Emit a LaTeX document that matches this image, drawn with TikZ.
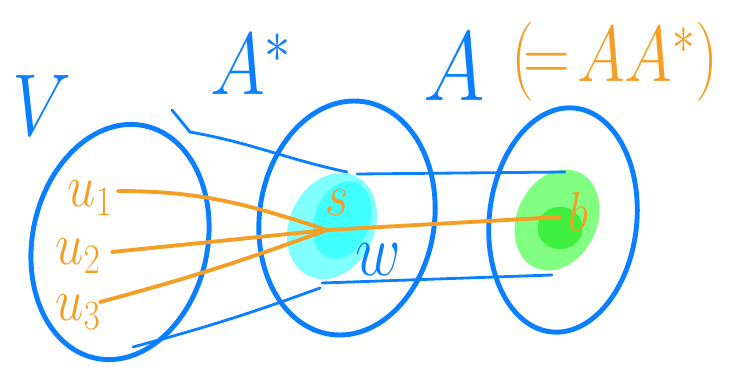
\documentclass[tikz,border=0pt]{standalone}
\usepackage{fix-cm}
\usepackage{amsmath, amssymb}
\usepackage{xcolor}
\usepackage{tikz}
\usetikzlibrary{
  arrows.meta,
  positioning,
  shapes.geometric,
  calc,
}
\definecolor{penblue}{HTML}{0A7FFF}
\definecolor{penorange}{HTML}{F59E26}
\definecolor{cyanlight}{HTML}{80FFFF}
\definecolor{cyandeep}{HTML}{40FFFF}
\definecolor{greenlight}{HTML}{80FF80}
\definecolor{greendeep}{HTML}{40F040}

\begin{document}
\begin{tikzpicture}[
    set/.style={ellipse, draw=penblue, line width=2.8pt, inner sep=0pt},
    blob/.style={ellipse, inner sep=0pt},
    map/.style={draw=penblue, line width=1.6pt, line cap=round},
    elt/.style={draw=penorange, line width=2.2pt, line cap=round},
    bluelab/.style={text=penblue, font=\fontsize{50}{50}\selectfont,
                    inner sep=0pt, xscale=0.85, transform shape},
    orangelab/.style={text=penorange, font=\fontsize{45}{45}\selectfont,
                      inner sep=0pt, xscale=0.82, transform shape},
    eltlab/.style={text=penorange, font=\fontsize{34}{34}\selectfont,
                   inner sep=0pt, xscale=0.85, transform shape},
  ]
  \useasboundingbox (0,0) rectangle (14.62,7.48);
  % coloured patches for s and b
  \node[blob, fill=cyanlight, minimum width=1.7cm, minimum height=2.2cm, rotate=-25] (Sout) at (6.64,2.96) {};
  \node[blob, fill=cyandeep, minimum width=1.1cm, minimum height=1.6cm, rotate=-20] (Sin) at (6.84,3.08) {};
  \node[blob, fill=greenlight, minimum width=1.6cm, minimum height=2.1cm, rotate=-25] (Bout) at (11.14,3.08) {};
  \node[blob, fill=greendeep, minimum width=0.9cm, minimum height=0.85cm] (Bin) at (11.2,2.92) {};

  % the sets V, A^* and A
  \node[set, minimum width=3.5cm, minimum height=4.75cm, rotate=-12] (V) at (2.40,2.64) {};
  \node[set, minimum width=3.5cm, minimum height=4.7cm, rotate=-8] (As) at (6.94,3.12) {};
  \node[set, minimum width=2.95cm, minimum height=4.5cm, rotate=-6] (A) at (11.26,3.08) {};

  \node[bluelab] (Vlab) at (0.84,5.38) {$V$};
  \node[bluelab] (Aslab) at (5.02,6.2) {$A^{*}$};
  \node[bluelab, font=\fontsize{56}{56}\selectfont] (Alab) at (9.08,6.14) {$A$};
  \node[orangelab] (eq) at (12.3,6.24) {$(\!=\!AA^{*})$};

  % ends of the maps
  \coordinate (hook) at (3.44,5.28);
  \coordinate (topL) at (3.80,4.84);
  \coordinate (topM) at (6.94,4.04);
  \coordinate (botL) at (2.66,0.54);
  \coordinate (botM) at (6.40,1.72);
  \coordinate (topM2) at (7.14,4.00);
  \coordinate (topR) at (11.30,4.04);
  \coordinate (botM2) at (6.44,1.82);
  \coordinate (botR) at (11.04,1.98);

  \draw[map] (hook) -- (topL) to[out=-10,in=168] (topM);
  \draw[map] (botL) to[out=15,in=200] (botM);
  \draw[map] (topM2) -- (topR);
  \draw[map] (botM2) -- (botR);

  % elements
  \node[eltlab] (u1) at (1.80,3.52) {$u_1$};
  \node[eltlab] (u2) at (1.56,2.36) {$u_2$};
  \node[eltlab] (u3) at (1.56,1.24) {$u_3$};
  \node[eltlab] (s) at (6.74,3.42) {$s$};
  \node[bluelab, font=\fontsize{42}{42}\selectfont] (w) at (7.56,2.28) {$w$};
  \node[eltlab, font=\fontsize{32}{32}\selectfont] (b) at (11.56,3.24) {$b$};

  \coordinate (u1e) at (2.36,3.66);
  \coordinate (u2e) at (2.24,2.44);
  \coordinate (u3e) at (2.00,1.44);
  \coordinate (sp) at (6.54,2.88);
  \coordinate (bp) at (11.20,3.14);

  \draw[elt] (u1e) to[out=0,in=162] (sp);
  \draw[elt] (u2e) -- (sp);
  \draw[elt] (u3e) to[out=15,in=200] (sp);
  \draw[elt] (sp) -- (bp);
\end{tikzpicture}
\end{document}
